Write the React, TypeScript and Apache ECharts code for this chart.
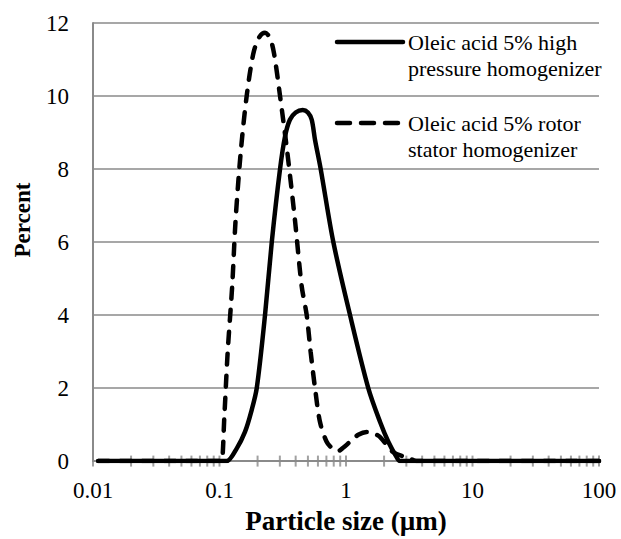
import React, { useEffect, useRef } from "react";
import * as echarts from "echarts";

// Particle size (µm) / percent readings, high pressure homogenizer
const hpSizes = [0.011, 0.05, 0.1, 0.114, 0.137, 0.159, 0.178, 0.197, 0.229, 0.259, 0.301, 0.33, 0.36, 0.4, 0.455, 0.5, 0.536, 0.569, 0.631, 0.794, 1.076, 1.5, 1.86, 2.16, 2.52, 2.67, 10, 100];
const hpValues = [0, 0, 0, 0, 0.35, 0.8, 1.35, 2, 4, 6, 8, 8.9, 9.35, 9.55, 9.62, 9.55, 9.35, 8.8, 8, 6, 4, 2, 1.07, 0.53, 0.1, 0, 0, 0];

// rotor stator homogenizer
const rsSizes = [0.011, 0.05, 0.1, 0.104, 0.109, 0.116, 0.126, 0.134, 0.147, 0.164, 0.185, 0.205, 0.229, 0.25, 0.27, 0.301, 0.344, 0.395, 0.446, 0.489, 0.525, 0.569, 0.623, 0.703, 0.78, 0.869, 0.96, 1.076, 1.25, 1.46, 1.65, 1.86, 2.35, 3.2, 3.6, 10, 100];
const rsValues = [0, 0, 0, 0, 1.16, 2.98, 4.8, 6.6, 8.44, 10, 11.16, 11.6, 11.73, 11.6, 11.16, 10, 8.44, 6.6, 4.8, 4, 3, 2, 1.07, 0.53, 0.35, 0.28, 0.38, 0.53, 0.72, 0.8, 0.76, 0.66, 0.25, 0.07, 0, 0, 0];

const xTickLabels = ["0.01", "0.1", "1", "10", "100"];
const xTickPositions = [
  0.01, 0.02, 0.03, 0.04, 0.05, 0.06, 0.07, 0.08, 0.09,
  0.1, 0.2, 0.3, 0.4, 0.5, 0.6, 0.7, 0.8, 0.9,
  1, 2, 3, 4, 5, 6, 7, 8, 9,
  10, 20, 30, 40, 50, 60, 70, 80, 90, 100,
];

const seriesNames = [
  "Oleic acid 5% high\npressure homogenizer",
  "Oleic acid 5% rotor\nstator homogenizer",
];

const SERIF = "Liberation Serif";
const GRAY = "#8a8a8a";

export default function App() {
  const ref = useRef<HTMLDivElement>(null);
  useEffect(() => {
    if (!ref.current) return;
    const chart = echarts.init(ref.current, undefined, { renderer: "svg" });
    const hp = hpSizes.map((s, i) => [s, hpValues[i]]);
    const rs = rsSizes.map((s, i) => [s, rsValues[i]]);
    chart.setOption({
      animation: false,
      backgroundColor: "#ffffff",
      textStyle: { fontFamily: SERIF },
      grid: { left: 93, right: 22, top: 23, bottom: 76, containLabel: false },
      xAxis: {
        type: "log",
        logBase: 10,
        min: 0.01,
        max: 100,
        name: "Particle size (µm)",
        nameLocation: "middle",
        nameGap: 40,
        nameTextStyle: { fontFamily: SERIF, fontSize: 27, fontWeight: "bold", color: "#000" },
        axisLine: { show: true, lineStyle: { color: GRAY, width: 2 } },
        axisTick: { show: false },
        splitLine: { show: false },
        axisLabel: {
          fontFamily: SERIF,
          fontSize: 23,
          color: "#000",
          margin: 18,
          formatter: (v: number) => {
            const i = Math.round(Math.log10(v)) + 2;
            return xTickLabels[i] ?? String(v);
          },
        },
      },
      yAxis: {
        type: "value",
        min: 0,
        max: 12,
        interval: 2,
        axisLine: { show: true, lineStyle: { color: GRAY, width: 2 } },
        axisTick: { show: false },
        splitLine: { show: true, lineStyle: { color: GRAY, width: 1.5 } },
        axisLabel: { fontFamily: SERIF, fontSize: 23, color: "#000", margin: 24 },
      },
      graphic: [
        {
          type: "text",
          x: 22,
          y: 220,
          rotation: Math.PI / 2,
          style: {
            text: "Percent",
            fontFamily: SERIF,
            fontSize: 23,
            fontWeight: "bold",
            fill: "#000",
            align: "center",
            verticalAlign: "middle",
          },
        },
        {
          type: "line",
          shape: { x1: 337, y1: 42, x2: 403, y2: 42 },
          style: { stroke: "#000", lineWidth: 4.5, lineCap: "round" },
        },
        {
          type: "text",
          x: 408,
          y: 29,
          style: {
            text: seriesNames[0],
            fontFamily: SERIF,
            fontSize: 22,
            fill: "#000",
            lineHeight: 26,
            verticalAlign: "top",
          },
        },
        {
          type: "line",
          shape: { x1: 337, y1: 123, x2: 403, y2: 123 },
          style: { stroke: "#000", lineWidth: 4.5, lineCap: "round", lineDash: [13, 11] },
        },
        {
          type: "text",
          x: 408,
          y: 110,
          style: {
            text: seriesNames[1],
            fontFamily: SERIF,
            fontSize: 22,
            fill: "#000",
            lineHeight: 26,
            verticalAlign: "top",
          },
        },
      ],
      series: [
        {
          type: "scatter",
          data: xTickPositions.map((v) => [v, 0]),
          symbol: "rect",
          symbolSize: [2, 11],
          itemStyle: { color: GRAY },
          silent: true,
          z: 1,
        },
        {
          name: seriesNames[1],
          type: "line",
          data: rs,
          showSymbol: false,
          smooth: 0.3,
          lineStyle: { color: "#000", width: 4.5, type: [11, 11], cap: "round" },
          z: 3,
        },
        {
          name: seriesNames[0],
          type: "line",
          data: hp,
          showSymbol: false,
          smooth: 0.3,
          lineStyle: { color: "#000", width: 4.5, cap: "round" },
          z: 4,
        },
      ],
    });
    return () => chart.dispose();
  }, []);
  return (
    <div
      ref={ref}
      style={{ position: "fixed", left: 0, top: 0, width: 621, height: 539, background: "#fff" }}
    />
  );
}
